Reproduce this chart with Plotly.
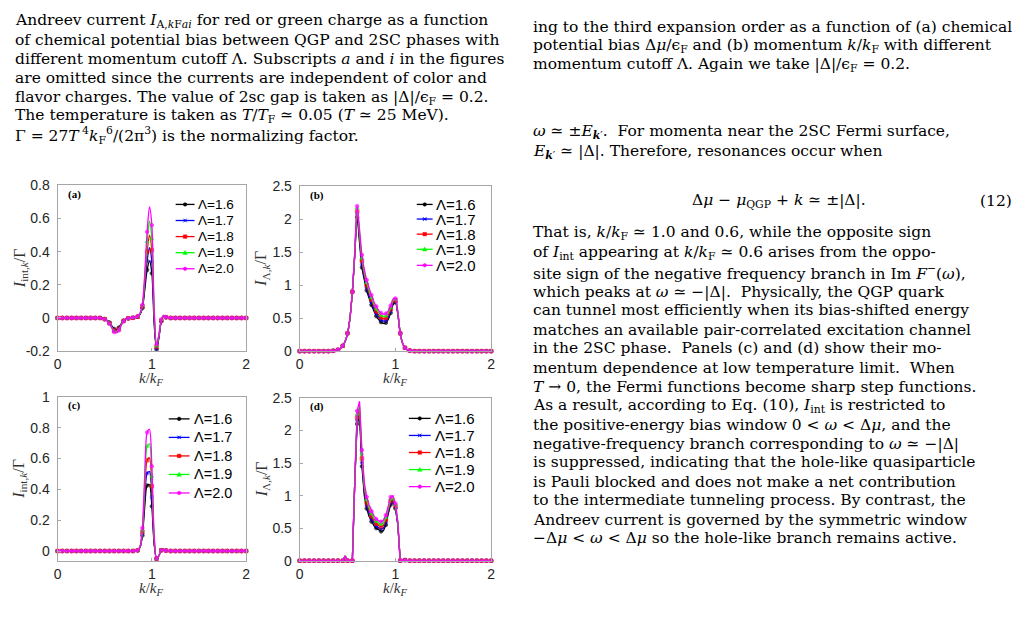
import plotly.graph_objects as go

# ---------------- data ----------------
K = [0, 0.025, 0.05, 0.075, 0.1, 0.125, 0.15, 0.175, 0.2, 0.225,
     0.25, 0.275, 0.3, 0.325, 0.35, 0.375, 0.4, 0.425, 0.45, 0.475,
     0.5, 0.525, 0.55, 0.575, 0.6, 0.625, 0.65, 0.675, 0.7, 0.725,
     0.75, 0.775, 0.8, 0.825, 0.85, 0.875, 0.9, 0.925, 0.95, 0.975,
     1.0, 1.025, 1.05, 1.075, 1.1, 1.125, 1.15, 1.175, 1.2, 1.225,
     1.25, 1.275, 1.3, 1.325, 1.35, 1.375, 1.4, 1.425, 1.45, 1.475,
     1.5, 1.525, 1.55, 1.575, 1.6, 1.625, 1.65, 1.675, 1.7, 1.725,
     1.75, 1.775, 1.8, 1.825, 1.85, 1.875, 1.9, 1.925, 1.95, 1.975,
     2.0]

LAMBDA_LABELS = ["Λ=1.6", "Λ=1.7", "Λ=1.8", "Λ=1.9", "Λ=2.0"]

# flat (zero) stretches
Z13 = [0, 0, 0, 0, 0, 0, 0, 0, 0, 0, 0, 0, 0]
Z19 = [0, 0, 0, 0, 0, 0, 0, 0, 0, 0, 0, 0, 0, 0, 0, 0, 0, 0, 0]
Z33 = [0, 0, 0, 0, 0, 0, 0, 0, 0, 0, 0, 0, 0, 0, 0, 0, 0, 0, 0, 0,
       0, 0, 0, 0, 0, 0, 0, 0, 0, 0, 0, 0, 0]
Z34 = [0, 0, 0, 0, 0, 0, 0, 0, 0, 0, 0, 0, 0, 0, 0, 0, 0, 0, 0, 0,
       0, 0, 0, 0, 0, 0, 0, 0, 0, 0, 0, 0, 0, 0]
Z36 = [0, 0, 0, 0, 0, 0, 0, 0, 0, 0, 0, 0, 0, 0, 0, 0, 0, 0, 0, 0,
       0, 0, 0, 0, 0, 0, 0, 0, 0, 0, 0, 0, 0, 0, 0, 0]

# (a) I_int,k / Gamma
a16 = Z19 + [-0.002, -0.006, -0.014, -0.027, -0.047, -0.066, -0.07, -0.058, -0.035, -0.016, -0.005, -0.002,
             0, 0.001, 0.003, 0.007, 0.022, 0.06, 0.17, 0.29, 0.345, 0.27, -0.04, -0.19, -0.12, -0.02, 0.012, 0.004] + Z34
a17 = Z19 + [-0.002, -0.007, -0.015, -0.029, -0.05, -0.071, -0.075, -0.062, -0.037, -0.017, -0.005, -0.002,
             0, 0.001, 0.003, 0.008, 0.023, 0.065, 0.195, 0.345, 0.425, 0.34, -0.01, -0.185, -0.115, -0.018, 0.013, 0.004] + Z34
a18 = Z19 + [-0.003, -0.007, -0.016, -0.031, -0.053, -0.076, -0.08, -0.067, -0.04, -0.018, -0.005, -0.002,
             0, 0.001, 0.004, 0.008, 0.025, 0.07, 0.22, 0.40, 0.50, 0.41, 0.01, -0.175, -0.11, -0.015, 0.014, 0.005] + Z34
a19 = Z19 + [-0.003, -0.008, -0.017, -0.033, -0.056, -0.08, -0.085, -0.071, -0.042, -0.019, -0.006, -0.002,
             0, 0.002, 0.004, 0.009, 0.027, 0.075, 0.245, 0.46, 0.585, 0.48, 0.03, -0.17, -0.105, -0.012, 0.015, 0.005] + Z34
a20 = Z19 + [-0.003, -0.008, -0.018, -0.035, -0.06, -0.085, -0.09, -0.075, -0.045, -0.02, -0.006, -0.002,
             0, 0.002, 0.005, 0.01, 0.03, 0.08, 0.27, 0.52, 0.67, 0.56, 0.05, -0.16, -0.10, -0.01, 0.015, 0.005] + Z34

# (b) I_Lambda,k / Gamma
RISE_B = [0.002, 0.005, 0.01, 0.02, 0.04, 0.08, 0.15, 0.27, 0.5, 0.9]
TAIL_B = [0.27, 0.12, 0.05, 0.02, 0.008, 0.003]
b16 = Z13 + RISE_B + [1.45, 2.03, 1.65, 1.27, 1.08, 0.92, 0.80, 0.70, 0.61, 0.53, 0.48, 0.44, 0.42,
                      0.43, 0.48, 0.58, 0.70, 0.74, 0.56] + TAIL_B + Z33
b17 = Z13 + RISE_B + [1.46, 2.08, 1.70, 1.32, 1.12, 0.96, 0.84, 0.74, 0.645, 0.57, 0.515, 0.475, 0.455,
                      0.465, 0.51, 0.61, 0.72, 0.755, 0.57] + TAIL_B + Z33
b18 = Z13 + RISE_B + [1.47, 2.12, 1.75, 1.37, 1.16, 1.00, 0.88, 0.78, 0.68, 0.605, 0.55, 0.51, 0.49,
                      0.50, 0.545, 0.635, 0.745, 0.77, 0.58] + TAIL_B + Z33
b19 = Z13 + RISE_B + [1.49, 2.17, 1.80, 1.41, 1.20, 1.04, 0.92, 0.81, 0.715, 0.64, 0.585, 0.545, 0.525,
                      0.535, 0.58, 0.66, 0.77, 0.785, 0.59] + TAIL_B + Z33
b20 = Z13 + RISE_B + [1.5, 2.2, 1.85, 1.46, 1.24, 1.08, 0.96, 0.85, 0.75, 0.68, 0.62, 0.58, 0.56,
                      0.57, 0.61, 0.69, 0.79, 0.80, 0.60] + TAIL_B + Z33

# (c) I_int,k / Gamma at low temperature
c16 = Z33 + [0.001, 0.004, 0.025, 0.10, 0.29, 0.425, 0.43, 0.29, 0.04, -0.05, -0.03, 0.005, 0.01, 0.003] + Z34
c17 = Z33 + [0.001, 0.004, 0.026, 0.11, 0.34, 0.505, 0.515, 0.35, 0.055, -0.05, -0.03, 0.005, 0.01, 0.003] + Z34
c18 = Z33 + [0.001, 0.005, 0.028, 0.125, 0.39, 0.59, 0.605, 0.42, 0.07, -0.05, -0.03, 0.005, 0.01, 0.003] + Z34
c19 = Z33 + [0.001, 0.005, 0.029, 0.135, 0.445, 0.68, 0.695, 0.485, 0.085, -0.05, -0.03, 0.005, 0.01, 0.003] + Z34
c20 = Z33 + [0.001, 0.005, 0.03, 0.15, 0.50, 0.77, 0.79, 0.55, 0.10, -0.05, -0.03, 0.005, 0.01, 0.003] + Z34

# (d) I_Lambda,k / Gamma at low temperature
HEAD_D = [0.07, 0, 0, 0, 1.2]
TAIL_D = [0, 0.005, 0.01]
d16 = Z19 + HEAD_D + [2.10, 2.22, 1.45, 1.00, 0.80, 0.68, 0.60, 0.54, 0.50, 0.47, 0.45, 0.46,
                      0.55, 0.72, 0.86, 0.90, 0.80, 0.55] + TAIL_D + Z36
d17 = Z19 + HEAD_D + [2.15, 2.28, 1.51, 1.05, 0.845, 0.725, 0.64, 0.58, 0.535, 0.505, 0.49, 0.50,
                      0.59, 0.75, 0.89, 0.925, 0.82, 0.56] + TAIL_D + Z36
d18 = Z19 + HEAD_D + [2.20, 2.33, 1.57, 1.10, 0.89, 0.77, 0.68, 0.615, 0.57, 0.54, 0.525, 0.54,
                      0.625, 0.785, 0.92, 0.95, 0.84, 0.575] + TAIL_D + Z36
d19 = Z19 + HEAD_D + [2.25, 2.39, 1.64, 1.15, 0.935, 0.815, 0.72, 0.65, 0.605, 0.575, 0.56, 0.58,
                      0.66, 0.82, 0.95, 0.975, 0.86, 0.59] + TAIL_D + Z36
d20 = Z19 + HEAD_D + [2.30, 2.45, 1.70, 1.20, 0.98, 0.86, 0.76, 0.69, 0.64, 0.61, 0.60, 0.62,
                      0.70, 0.85, 0.98, 1.00, 0.88, 0.60] + TAIL_D + Z36

PANEL_SERIES = {
    "a": [a16, a17, a18, a19, a20],
    "b": [b16, b17, b18, b19, b20],
    "c": [c16, c17, c18, c19, c20],
    "d": [d16, d17, d18, d19, d20],
}
for name, ser in PANEL_SERIES.items():
    for s in ser:
        assert len(s) == len(K), (name, len(s))

X_TICKS = [0, 1, 2]
Y_TICKS = {
    "a": ([-0.2, 0, 0.2, 0.4, 0.6, 0.8], ["-0.2", "0", "0.2", "0.4", "0.6", "0.8"]),
    "b": ([0, 0.5, 1, 1.5, 2, 2.5], ["0", "0.5", "1", "1.5", "2", "2.5"]),
    "c": ([0, 0.2, 0.4, 0.6, 0.8, 1], ["0", "0.2", "0.4", "0.6", "0.8", "1"]),
    "d": ([0, 0.5, 1, 1.5, 2, 2.5], ["0", "0.5", "1", "1.5", "2", "2.5"]),
}
Y_RANGES = {"a": [-0.2, 0.8], "b": [0, 2.5], "c": [-0.063, 1], "d": [0, 2.5]}
Y_TITLES = {
    "a": "<i>I</i><sub>int,<i>k</i></sub>/Γ",
    "b": "<i>I</i><sub>Λ,<i>k</i></sub>/Γ",
    "c": "<i>I</i><sub>int,<i>k</i></sub>/Γ",
    "d": "<i>I</i><sub>Λ,<i>k</i></sub>/Γ",
}

# ---------------- styling / layout ----------------
W, H = 1028, 635
def fx(p): return p / W
def fy(p): return 1 - p / H

COLORS = ["#000000", "#0000ff", "#ff0000", "#00ff00", "#ff00ff"]
SYMBOLS = ["circle", "asterisk-open", "square", "triangle-up", "circle"]
BOX = {  # pixel boxes: left, right, top, bottom
    "a": (54, 244, 182, 352),
    "b": (298, 491, 183, 352),
    "c": (54, 244, 399, 567),
    "d": (298, 491, 400, 567),
}
SHAPE = {"a": "spline", "b": "spline", "c": "spline", "d": "linear"}
# legend key: line start, line end, text start, row centres, font size
LEGEND = {
    "a": (173, 192, 194, [201.5, 218, 234.5, 251, 267.5], 13.5),
    "b": (416, 432, 433, [201.5, 216.5, 232, 247.5, 264], 15),
    "c": (166, 187, 189, [421.5, 440.5, 459.5, 478.5, 497.5], 14.5),
    "d": (408, 430, 432, [421, 438.5, 456, 473.5, 491], 15),
}

marker_sizes = [3.5 if i % 2 == 0 else 0 for i in range(len(K))]

fig = go.Figure()
layout = dict(
    width=W, height=H, margin=dict(l=0, r=0, t=0, b=0),
    paper_bgcolor="white", plot_bgcolor="white", showlegend=False,
)
annotations = []
shapes = []
TICKFONT = dict(family="Liberation Sans, Arial, sans-serif", size=14, color="#262626")
SERIF = "Liberation Serif, Times New Roman, serif"
BODY = "DejaVu Serif, serif"

def key_marker(sym, cx, cy, color):
    r = 1.8
    if sym == "circle":
        return [dict(type="circle", xref="paper", yref="paper", x0=fx(cx - r), x1=fx(cx + r),
                     y0=fy(cy + r), y1=fy(cy - r), fillcolor=color, line=dict(color=color, width=0.5))]
    if sym == "square":
        return [dict(type="rect", xref="paper", yref="paper", x0=fx(cx - r), x1=fx(cx + r),
                     y0=fy(cy + r), y1=fy(cy - r), fillcolor=color, line=dict(color=color, width=0.5))]
    if sym == "triangle-up":
        path = "M %f %f L %f %f L %f %f Z" % (fx(cx - 2.2), fy(cy + 1.8), fx(cx + 2.2), fy(cy + 1.8), fx(cx), fy(cy - 2.2))
        return [dict(type="path", xref="paper", yref="paper", path=path, fillcolor=color,
                     line=dict(color=color, width=0.5))]
    # asterisk
    path = "M %f %f L %f %f M %f %f L %f %f M %f %f L %f %f" % (
        fx(cx - 2.2), fy(cy), fx(cx + 2.2), fy(cy),
        fx(cx - 1.6), fy(cy - 1.8), fx(cx + 1.6), fy(cy + 1.8),
        fx(cx - 1.6), fy(cy + 1.8), fx(cx + 1.6), fy(cy - 1.8))
    return [dict(type="path", xref="paper", yref="paper", path=path, line=dict(color=color, width=1))]

for idx, p in enumerate(["a", "b", "c", "d"]):
    n = "" if idx == 0 else str(idx + 1)
    xa, ya = "x" + n, "y" + n
    for j, ser in enumerate(PANEL_SERIES[p]):
        fig.add_trace(go.Scatter(
            x=K, y=ser, xaxis=xa, yaxis=ya, mode="lines+markers",
            name=LAMBDA_LABELS[j], cliponaxis=False,
            line=dict(color=COLORS[j], width=1.3, shape=SHAPE[p], smoothing=0.8),
            marker=dict(symbol=SYMBOLS[j], size=marker_sizes, color=COLORS[j],
                        line=dict(color=COLORS[j], width=1)),
        ))
    l, r, t, b = BOX[p]
    axcommon = dict(showline=True, mirror=True, linecolor="#a6a6a6", linewidth=1,
                    ticks="inside", ticklen=3, tickcolor="#a6a6a6", showgrid=False,
                    zeroline=False, tickfont=TICKFONT)
    layout["xaxis" + n] = dict(domain=[fx(l), fx(r)], range=[0, 2], anchor=ya,
                               tickvals=X_TICKS, ticktext=[str(v) for v in X_TICKS], **axcommon)
    tv, tt = Y_TICKS[p]
    layout["yaxis" + n] = dict(domain=[fy(b), fy(t)], range=Y_RANGES[p], anchor=xa,
                               tickvals=tv, ticktext=tt, ticklabelstandoff=4, **axcommon)
    # legend key drawn inside the panel
    x0, x1, tx, rows, fs = LEGEND[p]
    for j, yy in enumerate(rows):
        shapes.append(dict(type="line", xref="paper", yref="paper", x0=fx(x0), x1=fx(x1),
                           y0=fy(yy), y1=fy(yy), line=dict(color=COLORS[j], width=1.3)))
        shapes.extend(key_marker(SYMBOLS[j], (x0 + x1) / 2, yy, COLORS[j]))
        annotations.append(dict(x=fx(tx), y=fy(yy), xref="paper", yref="paper", text=LAMBDA_LABELS[j],
                                showarrow=False, xanchor="left", yanchor="middle",
                                font=dict(family="Liberation Sans, Arial, sans-serif", size=fs, color="#000")))
    # panel tag
    annotations.append(dict(x=fx(l + 8), y=fy(t + 9), xref="paper", yref="paper", text="<b>(%s)</b>" % p,
                            showarrow=False, xanchor="left", yanchor="middle",
                            font=dict(family=SERIF, size=11, color="#000")))
    # axis titles
    annotations.append(dict(x=fx(l - 38), y=fy((t + b) / 2), xref="paper", yref="paper",
                            text=Y_TITLES[p], textangle=-90, showarrow=False,
                            xanchor="center", yanchor="middle",
                            font=dict(family=SERIF, size=16, color="#333333")))
    annotations.append(dict(x=fx((l + r) / 2), y=fy(b + 29), xref="paper", yref="paper",
                            text="<i>k</i>/<i>k<sub>F</sub></i>", showarrow=False,
                            xanchor="center", yanchor="middle",
                            font=dict(family=SERIF, size=15, color="#333333")))

# ---------------- surrounding page text ----------------
LEFT_LINES = [
    (13, "Andreev current <i>I</i><sub>A,<i>k</i>F<i>ai</i></sub> for red or green charge as a function"),
    (33, "of chemical potential bias between QGP and 2SC phases with"),
    (52, "different momentum cutoff Λ. Subscripts <i>a</i> and <i>i</i> in the figures"),
    (72, "are omitted since the currents are independent of color and"),
    (92, "flavor charges. The value of 2sc gap is taken as |Δ|/ϵ<sub>F</sub> = 0.2."),
    (111, "The temperature is taken as <i>T</i>/<i>T</i><sub>F</sub> ≃ 0.05 (<i>T</i> ≃ 25 MeV)."),
    (131, "Γ = 27<i>T</i><sup> 4</sup><i>k</i><sub>F</sub><sup>6</sup>/(2π<sup>3</sup>) is the normalizing factor."),
]
RIGHT_LINES = [
    (20, "ing to the third expansion order as a function of (a) chemical"),
    (39, "potential bias Δ<i>μ</i>/ϵ<sub>F</sub> and (b) momentum <i>k</i>/<i>k</i><sub>F</sub> with different"),
    (58, "momentum cutoff Λ. Again we take |Δ|/ϵ<sub>F</sub> = 0.2."),
    (127, "<i>ω</i> ≃ ±<i>E</i><sub><b><i>k</i></b>′</sub>.  For momenta near the 2SC Fermi surface,"),
    (148, "<i>E</i><sub><b><i>k</i></b>′</sub> ≃ |Δ|. Therefore, resonances occur when"),
    (231, "That is, <i>k</i>/<i>k</i><sub>F</sub> ≃ 1.0 and 0.6, while the opposite sign"),
    (251, "of <i>I</i><sub>int</sub> appearing at <i>k</i>/<i>k</i><sub>F</sub> ≃ 0.6 arises from the oppo-"),
    (271, "site sign of the negative frequency branch in Im <i>F</i><sup>−</sup>(<i>ω</i>),"),
    (291, "which peaks at <i>ω</i> ≃ −|Δ|.  Physically, the QGP quark"),
    (310, "can tunnel most efficiently when its bias-shifted energy"),
    (330, "matches an available pair-correlated excitation channel"),
    (349, "in the 2SC phase.  Panels (c) and (d) show their mo-"),
    (369, "mentum dependence at low temperature limit.  When"),
    (389, "<i>T</i> → 0, the Fermi functions become sharp step functions."),
    (408, "As a result, according to Eq. (10), <i>I</i><sub>int</sub> is restricted to"),
    (428, "the positive-energy bias window 0 &lt; <i>ω</i> &lt; Δ<i>μ</i>, and the"),
    (447, "negative-frequency branch corresponding to <i>ω</i> ≃ −|Δ|"),
    (466, "is suppressed, indicating that the hole-like quasiparticle"),
    (486, "is Pauli blocked and does not make a net contribution"),
    (505, "to the intermediate tunneling process. By contrast, the"),
    (525, "Andreev current is governed by the symmetric window"),
    (544, "−Δ<i>μ</i> &lt; <i>ω</i> &lt; Δ<i>μ</i> so the hole-like branch remains active."),
]
TEXTFONT = dict(family=BODY, size=15.5, color="#000000")
for yy, txt in LEFT_LINES:
    annotations.append(dict(x=fx(9), y=fy(yy), xref="paper", yref="paper", text=txt,
                            showarrow=False, xanchor="left", yanchor="middle", font=TEXTFONT))
for yy, txt in RIGHT_LINES:
    annotations.append(dict(x=fx(531), y=fy(yy), xref="paper", yref="paper", text=txt,
                            showarrow=False, xanchor="left", yanchor="middle", font=TEXTFONT))
annotations.append(dict(x=fx(781), y=fy(198), xref="paper", yref="paper",
                        text="Δ<i>μ</i> − <i>μ</i><sub>QGP</sub> + <i>k</i> ≃ ±|Δ|.",
                        showarrow=False, xanchor="center", yanchor="middle", font=TEXTFONT))
annotations.append(dict(x=fx(1018), y=fy(198), xref="paper", yref="paper", text="(12)",
                        showarrow=False, xanchor="right", yanchor="middle", font=TEXTFONT))

layout["annotations"] = annotations
layout["shapes"] = shapes
fig.update_layout(**layout)
fig.write_html("out.html")
